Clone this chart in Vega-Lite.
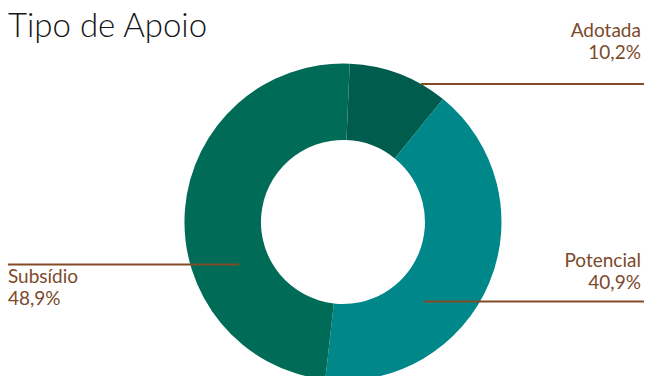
{
  "$schema": "https://vega.github.io/schema/vega-lite/v6.json",
  "width": 646,
  "height": 376,
  "padding": 0,
  "autosize": "none",
  "background": "white",
  "config": {"view": {"stroke": null}, "font": "Lato"},
  "data": {"values": [
    {"tipo": "Adotada", "pct": 10.2, "rotulo": "10,2%"},
    {"tipo": "Potencial", "pct": 40.9, "rotulo": "40,9%"},
    {"tipo": "Subsídio", "pct": 48.9, "rotulo": "48,9%"}
  ]},
  "transform": [{"calculate": "datum.tipo + '\\n' + datum.rotulo", "as": "etiqueta"}],
  "layer": [
    {
      "mark": {"type": "arc", "innerRadius": 82, "outerRadius": 158.5},
      "encoding": {
        "x": {"datum": 0, "type": "quantitative", "scale": {"domain": [-2.164, 1.912], "nice": false, "zero": false}, "axis": null},
        "y": {"datum": 0, "type": "quantitative", "scale": {"domain": [-0.972, 1.401], "nice": false, "zero": false}, "axis": null},
        "theta": {"field": "pct", "type": "quantitative", "stack": true, "scale": {"range": [0.0426, 6.3258]}},
        "color": {"field": "tipo", "type": "nominal", "scale": {"domain": ["Adotada", "Potencial", "Subsídio"], "range": ["#005c4c", "#00878a", "#006b57"]}, "legend": null},
        "order": {"field": "tipo", "sort": "ascending"}
      }
    },
    {
      "data": {"values": [{"titulo": "Tipo de Apoio"}]},
      "transform": [],
      "mark": {"type": "text", "align": "left", "baseline": "alphabetic", "fontSize": 33, "fontWeight": 300, "color": "#161616"},
      "encoding": {
        "x": {"datum": -2.114, "type": "quantitative"},
        "y": {"datum": 1.169, "type": "quantitative"},
        "text": {"field": "titulo"}
      }
    },
    {
      "transform": [{"filter": "datum.tipo == 'Adotada'"}],
      "layer": [
        {"mark": {"type": "rule", "color": "#834a26", "strokeWidth": 2},
         "encoding": {"x": {"datum": 0.492, "type": "quantitative"}, "x2": {"datum": 1.899}, "y": {"datum": 0.871, "type": "quantitative"}}},
        {"mark": {"type": "text", "align": "right", "baseline": "alphabetic", "fontSize": 19, "lineBreak": "\n", "lineHeight": 22, "color": "#7c4a2b"},
         "encoding": {"x": {"datum": 1.88, "type": "quantitative"}, "y": {"datum": 1.17, "type": "quantitative"}, "text": {"field": "etiqueta"}}}
      ]
    },
    {
      "transform": [{"filter": "datum.tipo == 'Potencial'"}],
      "layer": [
        {"mark": {"type": "rule", "color": "#834a26", "strokeWidth": 2},
         "encoding": {"x": {"datum": 0.511, "type": "quantitative"}, "x2": {"datum": 1.899}, "y": {"datum": -0.502, "type": "quantitative"}}},
        {"mark": {"type": "text", "align": "right", "baseline": "alphabetic", "fontSize": 19, "lineBreak": "\n", "lineHeight": 22, "color": "#7c4a2b"},
         "encoding": {"x": {"datum": 1.88, "type": "quantitative"}, "y": {"datum": -0.284, "type": "quantitative"}, "text": {"field": "etiqueta"}}}
      ]
    },
    {
      "transform": [{"filter": "datum.tipo == 'Subsídio'"}],
      "layer": [
        {"mark": {"type": "rule", "color": "#834a26", "strokeWidth": 2},
         "encoding": {"x": {"datum": -2.114, "type": "quantitative"}, "x2": {"datum": -0.656}, "y": {"datum": -0.268, "type": "quantitative"}}},
        {"mark": {"type": "text", "align": "left", "baseline": "alphabetic", "fontSize": 19, "lineBreak": "\n", "lineHeight": 22, "color": "#7c4a2b"},
         "encoding": {"x": {"datum": -2.114, "type": "quantitative"}, "y": {"datum": -0.384, "type": "quantitative"}, "text": {"field": "etiqueta"}}}
      ]
    }
  ]
}
